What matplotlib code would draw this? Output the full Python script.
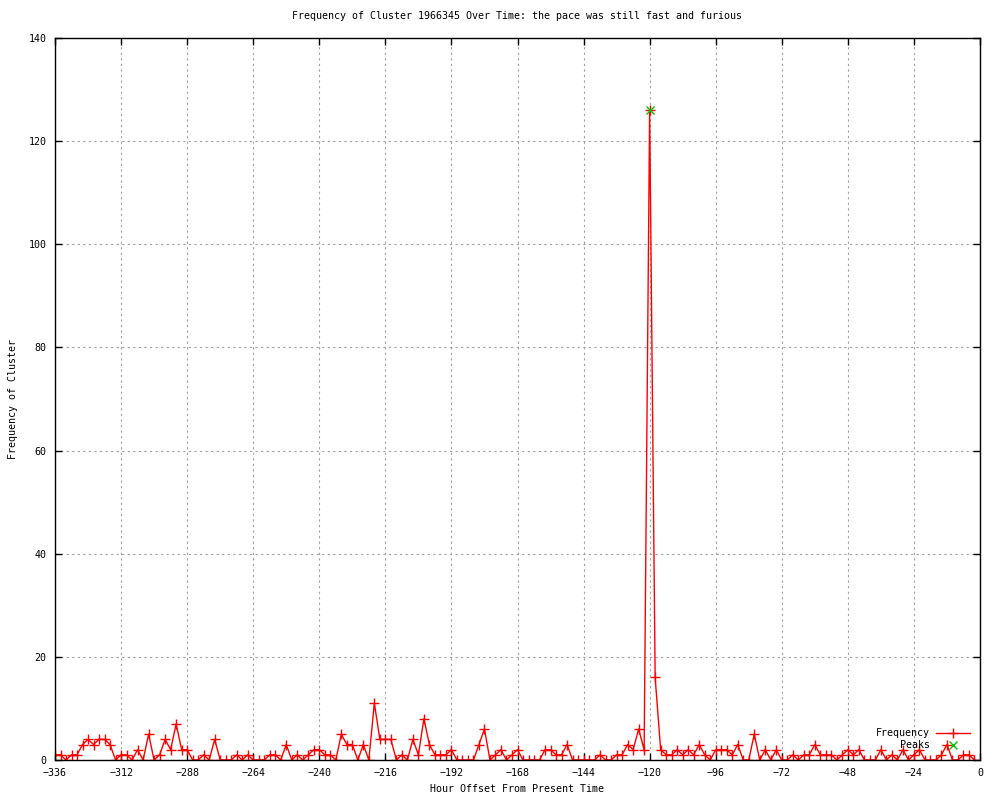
import numpy as np
import matplotlib
matplotlib.use("Agg")
import matplotlib.pyplot as plt

# hour offsets, every 2 hours
hours = list(range(-336, 0, 2))

freq = [
    1, 1, 0, 1, 1, 3, 4, 3, 4, 4, 3, 0, 1, 1, 0, 2, 0, 5, 0, 1, 4, 2, 7, 2, 2, 0, 0, 1, 0,      # -336 .. -280
    4, 0, 0, 0, 1, 0, 1, 0, 0, 0, 1, 1, 0, 3, 0, 1, 0, 1, 2, 2, 1, 1, 0, 5, 3, 3, 0,            # -278 .. -226
    3, 0, 11, 4, 4, 4, 0, 1, 0, 4, 1, 8, 3, 1, 1, 1, 2, 0, 0, 0, 0, 3, 6, 0, 1, 2, 0,           # -224 .. -172
    1, 2, 0, 0, 0, 0, 2, 2, 1, 1, 3, 0, 0, 0, 0, 0, 1, 0, 0, 1, 1, 3, 2, 6, 2, 126, 16,        # -170 .. -118
    2, 1, 1, 2, 1, 2, 1, 3, 1, 0, 2, 2, 2, 1, 3, 0, 0, 5, 0, 2, 0, 2, 0, 0, 1, 0, 1, 1, 3,      # -116 .. -60
    1, 1, 1, 0, 1, 2, 1, 2, 0, 0, 0, 2, 0, 1, 0, 2, 0, 1, 2, 0, 0, 0, 1, 3, 0, 0, 1, 1, 0,      # -58 .. -2
]

peak_hours = [-120]
peak_vals = [126]

xticks = list(range(-336, 1, 24))
yticks = list(range(0, 141, 20))

plt.rcParams['font.family'] = ['DejaVu Sans Mono']
fs = 7.2

fig = plt.figure(figsize=(10, 8), dpi=100)
ax = fig.add_axes([0.055, 0.05, 0.925, 0.9025])

ax.plot(hours, freq, color='red', lw=1, marker='+', ms=6.5, mew=1, label='Frequency')
ax.plot(peak_hours, peak_vals, ls='none', color='#00c000', marker='x', ms=5.5, mew=1, label='Peaks')

ax.set_xlim(-336, 0)
ax.set_ylim(0, 140)
ax.set_xticks(xticks)
ax.set_yticks(yticks)
ax.tick_params(direction='in', length=5, width=1, top=True, right=True, labelsize=fs, pad=6)
ax.grid(True, ls=(0, (2, 3)), color='#a0a0a0', lw=0.8)
ax.set_axisbelow(True)
for s in ax.spines.values():
    s.set_linewidth(1)

ax.set_title("Frequency of Cluster 1966345 Over Time: the pace was still fast and furious",
             fontsize=fs, pad=14)
ax.set_xlabel("Hour Offset From Present Time", fontsize=fs, labelpad=4)
ax.set_ylabel("Frequency of Cluster", fontsize=fs, labelpad=8)

ax.legend(loc='lower right', frameon=False, markerfirst=False, fontsize=fs,
          handlelength=3.4, labelspacing=0.15, borderaxespad=0.6, handletextpad=0.6)

fig.savefig("out.png", dpi=100)
